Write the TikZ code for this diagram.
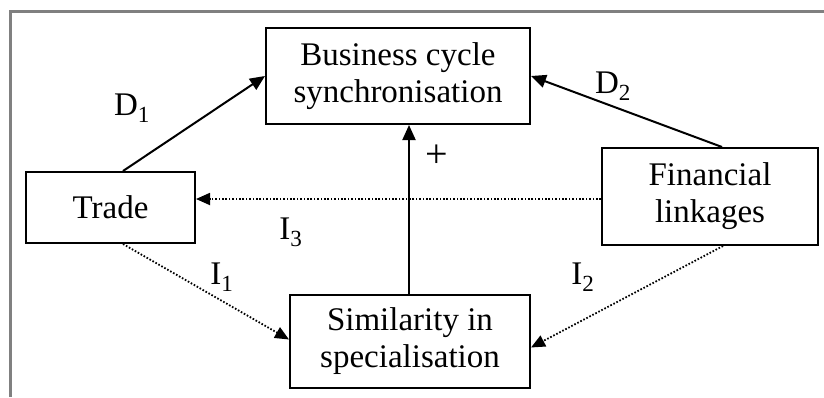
\documentclass[tikz,border=0pt]{standalone}
\usepackage{fontspec}
\setmainfont{Liberation Serif}
\usetikzlibrary{arrows.meta,calc}
\tikzset{
  box/.style={draw=black, line width=2pt, rectangle, inner sep=0pt, align=center,
    font=\fontsize{33}{37}\selectfont},
  lbl/.style={inner sep=0pt, font=\fontsize{33}{37}\selectfont},
  arr/.style={line width=2pt, -{Triangle[length=15pt,width=13pt]}},
  dotarr/.style={line width=1.8pt, dash pattern=on 1.6pt off 1.8pt, -{Triangle[length=14pt,width=12pt]}},
  frame/.style={draw=black!50, line width=3pt}
}
\begin{document}
\begin{tikzpicture}[x=1pt,y=-1pt]
\useasboundingbox (0,0) rectangle (824,397);
\draw[frame] (10.5,397) -- (10.5,11.5) -- (824,11.5);
\node[box, minimum width=264pt, minimum height=96pt] (bcs) at (398,76) {Business cycle\\synchronisation};
\node[box, minimum width=169pt, minimum height=71pt] (trade) at (110.5,207.5) {Trade};
\node[box, minimum width=216pt, minimum height=97pt] (fin) at (710,196.5) {Financial\\linkages};
\node[box, minimum width=240pt, minimum height=93pt] (sim) at (410,341.5) {Similarity in\\specialisation};
\coordinate (i3y) at (0,199);
\draw[arr] ([xshift=12.5pt]trade.north) -- (bcs.west);
\draw[arr] ([xshift=12pt]fin.north) -- (bcs.east);
\draw[arr] ([xshift=-1pt]sim.north) -- ([xshift=-1pt]sim.north |- bcs.south);
\draw[dotarr] (fin.west |- i3y) -- (trade.east |- i3y);
\draw[dotarr] ([xshift=12.5pt]trade.south) -- ([yshift=2pt]sim.west);
\draw[dotarr] ([xshift=13pt]fin.south) -- ([yshift=-6pt]sim.east);
\node[lbl] (d1) at (132,108) {D\textsubscript{1}};
\node[lbl] (d2) at (613,86) {D\textsubscript{2}};
\node[lbl, font=\fontsize{40}{40}\selectfont] (plus) at (437,156) {+};
\node[lbl] (i1) at (222,277) {I\textsubscript{1}};
\node[lbl] (i2) at (583,277) {I\textsubscript{2}};
\node[lbl] (i3) at (291,232) {I\textsubscript{3}};
\end{tikzpicture}
\end{document}
